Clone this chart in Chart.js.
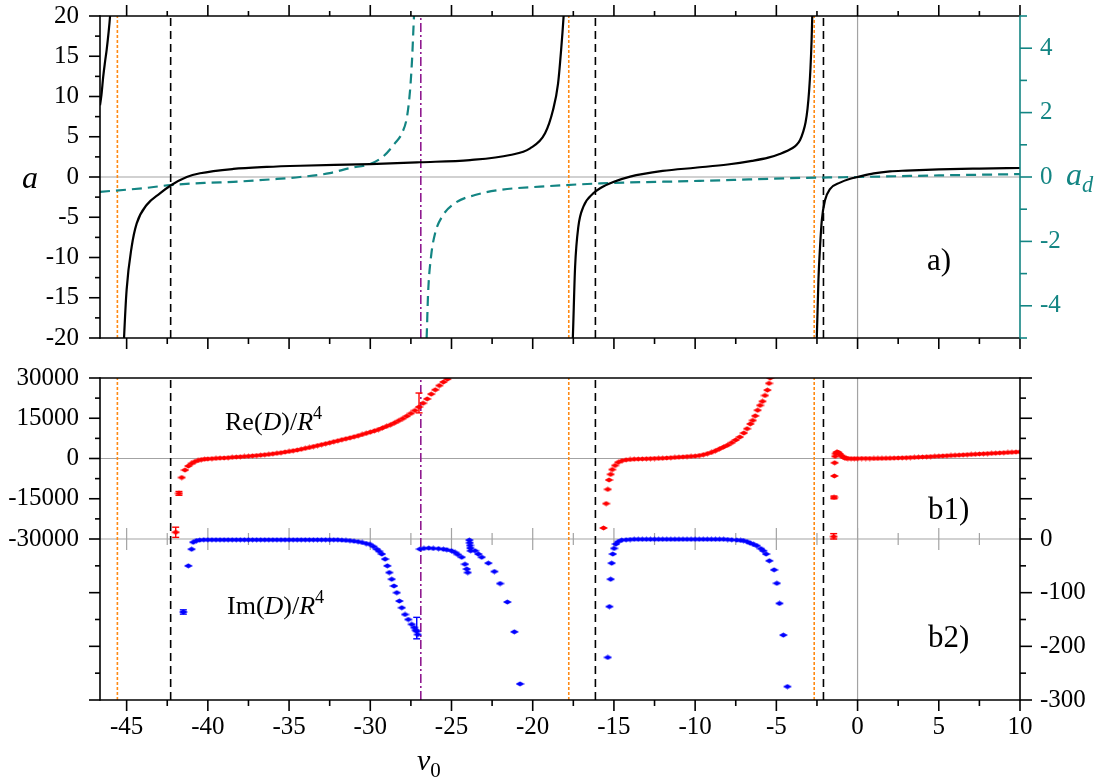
<!DOCTYPE html>
<html>
<head>
<meta charset="utf-8">
<script src="https://cdn.jsdelivr.net/npm/chart.js@4.4.0/dist/chart.umd.min.js"></script>
<style>
  body { margin: 0; background: #fff; }
  #wrap { position: relative; width: 1102px; height: 784px; }
  #topBox { position: absolute; left: 0; top: 0; width: 1102px; height: 360px; }
  #botBox { position: absolute; left: 0; top: 360px; width: 1102px; height: 424px; }
</style>
</head>
<body>
<div id="wrap">
  <div id="topBox"><canvas id="topChart"></canvas></div>
  <div id="botBox"><canvas id="botChart"></canvas></div>
</div>
<script>
// axis ranges / tick labels
const xMin = -46.64, xMax = 10;
const xTickVals = [-45, -40, -35, -30, -25, -20, -15, -10, -5, 0, 5, 10];
const aTickVals = [-20, -15, -10, -5, 0, 5, 10, 15, 20];
const adTickVals = [-4, -2, 0, 2, 4];
const reTickVals = [-30000, -15000, 0, 15000, 30000];
const imTickVals = [-300, -200, -100, 0];

// vertical marker lines (v0 positions)
const orangeLines = [-45.57, -17.78, -2.67];
const blackLines = [-42.29, -16.14, -2.10];
const purpleLines = [-26.89];

// panel a): scattering length a (black), null = break between branches
const aV = [-46.64, -46.55, -46.44, -46.33, -46.23, -46.12, -46.02, -45.96, null,
  -45.2, -45.16, -45.0, -44.69, -44.38, -43.77, -42.95, -42.29, -41.3, -40.48, -38.43, -36.38, -34.32, -30.01,
  -26.94, -23.86, -21.39, -20.16, -19.24, -18.75, -18.44, -18.25, -18.1, -18.04, null,
  -17.57, -17.53, -17.39, -17.19, -16.88, -16.27, -15.85, -15.0, -14.0, -12.0, -10.0, -8.0, -6.5, -5.5, -4.8,
  -4.0, -3.75, -3.54, -3.35, -3.2, -3.08, -2.98, -2.9, -2.83, -2.79, -2.77, null,
  -2.55, -2.51, -2.41, -2.31, -2.2, -2.0, -1.7, -1.08, -0.5, 0, 1, 2, 3, 5, 7.5, 10];
const aVal = [8.9, 10.2, 12.5, 14.3, 15.8, 17.8, 20, 22, null,
  -22, -20, -14.0, -8.66, -5.76, -3.48, -2.03, -1.05, 0, 0.46, 1.0, 1.25, 1.4, 1.6,
  1.83, 2.1, 2.73, 3.56, 5.43, 8.32, 11.6, 15.8, 19.9, 22, null,
  -22, -20, -11.14, -6.17, -3.69, -2.03, -1.4, -0.6, 0.05, 0.75, 1.15, 1.55, 2.0, 2.4, 2.85,
  3.6, 4.0, 4.6, 5.6, 6.8, 8.5, 10.8, 13.5, 17, 20, 22, null,
  -22, -20, -12.8, -8.66, -5.35, -2.86, -1.5, -0.7, -0.25, 0, 0.45, 0.7, 0.8, 0.95, 1.05, 1.12];

// panel a): a_d (teal, right axis)
const adV = [-46.64, -44, -42.29, -40, -38.43, -36, -34.32, -32.5, -31.25, -30.02, -29.22, -28.48, -28.04,
  -27.74, -27.55, -27.43, -27.31, -27.25, null,
  -26.57, -26.53, -26.44, -26.26, -26.01, -25.58, -24.78, -23.55, -22.01, -19.55, -15.85, -9.7, -3.54, 0, 5, 10];
const adVal = [-0.46, -0.35, -0.25, -0.18, -0.15, -0.07, 0, 0.12, 0.28, 0.4, 0.63, 1.05, 1.37,
  1.87, 2.7, 3.63, 4.98, 5.5, null,
  -5.5, -5, -3.6, -2.47, -1.75, -1.23, -0.81, -0.56, -0.4, -0.3, -0.2, -0.12, -0.03, 0, 0.05, 0.09];

// panel b1): Re(D)/R^4
const reV1 = [-41.98, -41.78, -41.61, -41.41, -41.2, -41.0, -40.8, -40.6, -40.4, -40.2, -40.0,
  -39.75, -39.5, -39.25, -39.0, -38.75, -38.5, -38.25, -38.0, -37.75, -37.5, -37.25, -37.0,
  -36.75, -36.5, -36.25, -36.0, -35.75, -35.5, -35.25, -35.0, -34.75, -34.5, -34.25, -34.0,
  -33.75, -33.5, -33.25, -33.0, -32.75, -32.5, -32.25, -32.0, -31.75, -31.5, -31.25, -31.0,
  -30.75, -30.5, -30.25, -30.0, -29.75, -29.5, -29.25, -29.0, -28.75, -28.5, -28.25, -28.0,
  -27.75, -27.5, -27.25, -27.0, -26.75, -26.5, -26.25, -26.0, -25.75, -25.5, -25.25, -25.0];
const reVal1 = [-27500, -13000, -7100, -4300, -2800, -1850, -1150, -700, -400, -250, -150,
  -50, 50, 150, 200, 300, 450, 550, 650, 750, 850, 1000, 1100,
  1250, 1400, 1550, 1750, 1950, 2150, 2400, 2650, 2900, 3150, 3450, 3800,
  4100, 4450, 4800, 5150, 5500, 5850, 6250, 6600, 7000, 7350, 7700, 8100,
  8500, 8950, 9400, 9850, 10300, 10800, 11400, 12000, 12600, 13300, 14100, 14900,
  15800, 16800, 17900, 19200, 20600, 22200, 24000, 25600, 27200, 28500, 29600, 31000];
const reV2 = [-15.64, -15.48, -15.38, -15.3, -15.2, -15.1, -14.93, -14.73,
  -14.5, -14.25, -14.0, -13.75, -13.5, -13.25, -13.0, -12.75, -12.5, -12.25, -12.0, -11.75, -11.5,
  -11.25, -11.0, -10.75, -10.5, -10.25, -10.0, -9.75, -9.5, -9.25, -9.0, -8.75, -8.5, -8.25, -8.0,
  -7.75, -7.5, -7.25, -7.0,
  -6.8, -6.6, -6.45, -6.3, -6.15, -6.0, -5.85, -5.7, -5.55, -5.45, -5.38];
const reVal2 = [-25900, -16800, -11500, -8000, -5900, -4100, -2600, -1400,
  -800, -500, -350, -250, -200, -150, -100, -50, 0, 50, 100, 200, 300,
  400, 500, 600, 700, 800, 900, 1100, 1400, 1800, 2300, 2900, 3600, 4300, 5000,
  5900, 6900, 8000, 9500,
  11100, 12900, 14200, 15900, 18000, 19800, 21300, 23500, 25500, 28000, 30000];
const reV3 = [-1.47, -1.45, -1.43, -1.41, -1.38, -1.34, -1.29, -1.24, -1.18, -1.1, -1.0, -0.9, -0.8, -0.7,
  -0.6, -0.4, -0.2, 0, 0.25, 0.5, 0.75, 1, 1.25, 1.5, 1.75, 2, 2.25, 2.5, 2.75, 3, 3.25, 3.5, 3.75,
  4, 4.25, 4.5, 4.75, 5, 5.25, 5.5, 5.75, 6, 6.25, 6.5, 6.75, 7, 7.25, 7.5, 7.75, 8, 8.25, 8.5, 8.75,
  9, 9.25, 9.5, 9.75, 10];
const reVal3 = [-29100, -14500, -6500, -1600, 800, 1800, 2300, 2400, 2200, 1700, 1100, 600, 250, 80,
  0, -50, -50, -30, 0, 0, 0, 20, 30, 50, 70, 100, 150, 200, 250, 300, 360, 430, 500,
  570, 640, 720, 800, 880, 960, 1040, 1120, 1200, 1280, 1360, 1440, 1520, 1600, 1680, 1760, 1840, 1920, 2000, 2080,
  2160, 2240, 2320, 2400, 2480];

// panel b2): Im(D)/R^4
const imV1 = [-41.51, -41.2, -41.0, -40.9, -40.7, -40.5, -40.25,
  -40.0, -39.75, -39.5, -39.25, -39.0, -38.75, -38.5, -38.25, -38.0, -37.75, -37.5, -37.25, -37.0,
  -36.75, -36.5, -36.25, -36.0, -35.75, -35.5, -35.25, -35.0, -34.75, -34.5, -34.25, -34.0,
  -33.75, -33.5, -33.25, -33.0, -32.75, -32.5, -32.25, -32.0, -31.75, -31.5, -31.25, -31.0,
  -30.75, -30.5, -30.25, -30.02, -29.8, -29.6, -29.45, -29.29, -29.09, -28.95, -28.83, -28.68,
  -28.54, -28.37, -28.21, -28.06, -27.86, -27.66, -27.45, -27.3, -27.2, -27.14, -27.08];
const imVal1 = [-136, -50, -19, -6, -3, -2, -1.5,
  -1.5, -1.5, -1.5, -1.5, -1.5, -1.5, -1.5, -1.5, -1.5, -1.5, -1.5, -1.5, -1.5,
  -1.5, -1.5, -1.5, -1.5, -1.5, -1.5, -1.5, -1.5, -1.5, -1.5, -1.5, -1.5,
  -1.5, -1.5, -1.5, -1.5, -1.5, -1.5, -1.5, -1.5, -2, -2.5, -3, -4,
  -5, -6.5, -8.5, -10, -14, -19, -23, -28, -37.5, -50, -62.5, -75,
  -87.5, -100, -115.6, -128, -140.6, -150, -159, -165, -170, -172, -178];
const imV2 = [-26.94, -26.7, -26.4, -26.12, -25.8, -25.5, -25.29, -25.0, -24.78, -24.6, -24.37, -24.17,
  -24.06, -24.0, -23.9, -23.88, -23.86, -23.84, -23.82, -23.55, -23.35, -23.14, -22.73, -22.36, -22.01,
  -21.56, -21.13, -20.78];
const imVal2 = [-18.8, -17.5, -17, -17.5, -18, -19, -20, -22, -25, -29, -34, -47,
  -56, -62.5, -2, -7, -12, -17, -22, -22, -28, -34, -45, -60.6, -83,
  -117.5, -173, -270];
const imV3 = [-15.38, -15.28, -15.2, -15.14, -15.07, -14.99, -14.88, -14.73, -14.52, -14.25,
  -14.0, -13.75, -13.5, -13.25, -13.0, -12.75, -12.5, -12.25, -12.0, -11.75, -11.5, -11.25, -11.0,
  -10.75, -10.5, -10.25, -10.0, -9.75, -9.5, -9.25, -9.0, -8.75, -8.5, -8.25, -8.0,
  -7.75, -7.44, -7.2, -7.03, -6.8, -6.62, -6.4, -6.2, -5.95, -5.8, -5.63, -5.43, -5.14, -4.97,
  -4.81, -4.57, -4.32];
const imVal3 = [-220.6, -126, -75, -45, -28, -17.5, -9.4, -5, -2, -1.5,
  -1, -0.5, -0.5, -0.5, -0.5, -0.5, -0.5, -0.5, -0.5, -0.5, -0.5, -0.5, -0.5,
  -0.5, -0.5, -0.5, -0.5, -0.5, -0.5, -0.5, -0.5, -0.5, -0.5, -0.5, -1,
  -1.5, -2, -2.5, -3, -5, -7.5, -10, -12.5, -18, -22, -28, -40.6, -57.5, -82.5,
  -120, -179, -275];

// visible error bars
const reErrV = [-41.98, -41.78, -27.0, -1.47, -1.45];
const reErrLo = [-29400, -13700, 17000, -30000, -15000];
const reErrHi = [-25600, -12300, 24400, -28000, -14000];
const imErrV = [-41.51, -27.14];
const imErrLo = [-140, -186];
const imErrHi = [-132, -146];

const FONT = '"Liberation Serif", "Times New Roman", serif';
const TEAL = '#138583';
const ORANGE = '#ff8a14';
const PURPLE = '#8f1a8f';
const GRAY = '#a3a3a3';
const RED = '#ff0000';
const BLUE = '#0000ff';

Chart.defaults.font.family = FONT;
Chart.defaults.color = '#000';

const pts = (xs, ys) => xs.map((x, i) => ({ x: x, y: ys[i] }));

function vline(vals, lo, hi, axis, color, dash) {
  const data = [];
  vals.forEach(v => { data.push({ x: v, y: lo }, { x: v, y: hi }, { x: null, y: null }); });
  return { data: data, yAxisID: axis, borderColor: color, borderWidth: 1.6, borderDash: dash,
    pointRadius: 0, showLine: true, clip: 0, spanGaps: false };
}

function marker(color) {
  const c = document.createElement('canvas');
  c.width = 9; c.height = 6;
  const g = c.getContext('2d');
  g.fillStyle = color;
  g.beginPath();
  g.moveTo(0, 3); g.lineTo(4.5, 0.6); g.lineTo(9, 3); g.lineTo(4.5, 5.4);
  g.closePath(); g.fill();
  return c;
}

function line(ctx, x1, y1, x2, y2) {
  ctx.beginPath(); ctx.moveTo(x1, y1); ctx.lineTo(x2, y2); ctx.stroke();
}

// text with italic / sub / sup pieces
function richText(ctx, x, y, parts, size, color) {
  ctx.save();
  ctx.fillStyle = color;
  ctx.textBaseline = 'alphabetic';
  ctx.textAlign = 'left';
  let cx = x;
  for (const [t, s] of parts) {
    let fs = size, dy = 0;
    if (s.includes('sub')) { fs = size * 0.7; dy = size * 0.22; }
    if (s.includes('sup')) { fs = size * 0.7; dy = -size * 0.42; }
    ctx.font = (s.includes('i') ? 'italic ' : '') + fs + 'px ' + FONT;
    ctx.fillText(t, cx, y + dy);
    cx += ctx.measureText(t).width;
  }
  ctx.restore();
}

const tickFont = { family: FONT, size: 25 };
const fixTicks = vals => scale => { scale.ticks = vals.map(v => ({ value: v })); };
// fixed axis box sizes, no extra label overflow padding
const fixWidth = w => s => { s.width = w; s.paddingTop = 0; s.paddingBottom = 0; };
const fixHeight = h => s => { s.height = h; s.paddingLeft = 0; s.paddingRight = 0; };

// ---------- panel a) ----------
const topDecor = {
  id: 'topDecor',
  beforeDatasetsDraw(chart) {
    const { ctx, chartArea: ca, scales: { x, y } } = chart;
    ctx.save();
    ctx.strokeStyle = GRAY; ctx.lineWidth = 1.2;
    line(ctx, ca.left, y.getPixelForValue(0), ca.right, y.getPixelForValue(0));
    line(ctx, x.getPixelForValue(0), ca.top, x.getPixelForValue(0), ca.bottom);
    ctx.restore();
  },
  afterDraw(chart) {
    const { ctx, chartArea: ca, scales: { x, y, y2 } } = chart;
    ctx.save();
    ctx.lineWidth = 1.6; ctx.strokeStyle = '#000';
    line(ctx, ca.left, ca.top, ca.right, ca.top);
    line(ctx, ca.left, ca.bottom, ca.right, ca.bottom);
    line(ctx, ca.left, ca.top - 0.8, ca.left, ca.bottom + 0.8);
    for (let v = -45; v <= 10; v += 2.5) {
      const px = x.getPixelForValue(v), major = v % 5 === 0;
      line(ctx, px, ca.bottom, px, ca.bottom + (major ? 11 : 6));
      line(ctx, px, ca.top, px, ca.top - (major ? 11 : 5));
    }
    for (let v = -20; v <= 20; v += 2.5) {
      const py = y.getPixelForValue(v), major = v % 5 === 0;
      line(ctx, ca.left, py, ca.left - (major ? 11 : 5), py);
    }
    ctx.strokeStyle = TEAL;
    line(ctx, ca.right, ca.top - 0.8, ca.right, ca.bottom + 0.8);
    for (let v = -5; v <= 5; v++) {
      const py = y2.getPixelForValue(v);
      line(ctx, ca.right, py, ca.right + (v % 2 === 0 ? 12 : 7), py);
    }
    richText(ctx, 22, 188, [['a', 'i']], 32, '#000');
    richText(ctx, 1066, 185, [['a', 'i'], ['d', 'isub']], 32, TEAL);
    richText(ctx, 927, 270, [['a)', '']], 31, '#000');
    ctx.restore();
  }
};

new Chart(document.getElementById('topChart'), {
  type: 'line',
  data: {
    datasets: [
      { data: pts(aV, aVal), yAxisID: 'y', borderColor: '#000', borderWidth: 2.2, pointRadius: 0,
        cubicInterpolationMode: 'monotone', clip: 0 },
      { data: pts(adV, adVal), yAxisID: 'y2', borderColor: TEAL, borderWidth: 2.2, borderDash: [10, 6],
        pointRadius: 0, cubicInterpolationMode: 'monotone', clip: 0 },
      vline(purpleLines, -20, 20, 'y', PURPLE, [9, 3, 2, 3]),
      vline(blackLines, -20, 20, 'y', '#000', [8, 5]),
      vline(orangeLines, -20, 20, 'y', ORANGE, [3, 2])
    ]
  },
  options: {
    responsive: true,
    maintainAspectRatio: false,
    animation: false,
    events: [],
    layout: { padding: { top: 16, left: 0, right: 0, bottom: 0 } },
    plugins: { legend: { display: false }, tooltip: { enabled: false } },
    scales: {
      x: {
        type: 'linear', position: 'bottom', min: xMin, max: xMax,
        grid: { display: false, drawTicks: false }, border: { display: false },
        ticks: { display: false },
        afterFit: fixHeight(22)
      },
      y: {
        type: 'linear', position: 'left', min: -20, max: 20,
        grid: { display: false, drawTicks: false }, border: { display: false },
        ticks: { font: tickFont, color: '#000', padding: 21, callback: v => String(v) },
        afterBuildTicks: fixTicks(aTickVals),
        afterFit: fixWidth(100)
      },
      y2: {
        type: 'linear', position: 'right', min: -5, max: 5,
        grid: { display: false, drawTicks: false }, border: { display: false },
        ticks: { font: tickFont, color: TEAL, padding: 20, callback: v => String(v) },
        afterBuildTicks: fixTicks(adTickVals),
        afterFit: fixWidth(82)
      }
    }
  },
  plugins: [topDecor]
});

// ---------- panels b1) / b2) ----------
const botDecor = {
  id: 'botDecor',
  beforeDatasetsDraw(chart) {
    const { ctx, chartArea: ca, scales: { x, yRe } } = chart;
    ctx.save();
    ctx.strokeStyle = GRAY; ctx.lineWidth = 1.2;
    line(ctx, ca.left, yRe.getPixelForValue(0), ca.right, yRe.getPixelForValue(0));
    line(ctx, x.getPixelForValue(0), ca.top, x.getPixelForValue(0), ca.bottom);
    const ym = yRe.getPixelForValue(-30000);
    line(ctx, ca.left, ym, ca.right, ym);
    for (let v = -45; v <= 10; v += 2.5) {
      const px = x.getPixelForValue(v), h = v % 5 === 0 ? 11 : 6;
      line(ctx, px, ym - h, px, ym + h);
    }
    ctx.restore();
  },
  afterDatasetsDraw(chart) {
    const { ctx, scales: { x, yRe, yIm } } = chart;
    ctx.save();
    ctx.lineWidth = 1.4;
    const bars = (vs, lo, hi, sc, col) => {
      ctx.strokeStyle = col;
      vs.forEach((v, i) => {
        const px = x.getPixelForValue(v), p1 = sc.getPixelForValue(lo[i]), p2 = sc.getPixelForValue(hi[i]);
        line(ctx, px, p1, px, p2);
        line(ctx, px - 3.5, p1, px + 3.5, p1);
        line(ctx, px - 3.5, p2, px + 3.5, p2);
      });
    };
    bars(reErrV, reErrLo, reErrHi, yRe, RED);
    bars(imErrV, imErrLo, imErrHi, yIm, BLUE);
    ctx.restore();
  },
  afterDraw(chart) {
    const { ctx, chartArea: ca, scales: { x, yRe, yIm } } = chart;
    ctx.save();
    ctx.lineWidth = 1.6; ctx.strokeStyle = '#000';
    line(ctx, ca.left, ca.top, ca.right, ca.top);
    line(ctx, ca.left, ca.bottom, ca.right, ca.bottom);
    line(ctx, ca.left, ca.top - 0.8, ca.left, ca.bottom + 0.8);
    line(ctx, ca.right, ca.top - 0.8, ca.right, ca.bottom + 0.8);
    for (let v = -45; v <= 10; v += 2.5) {
      const px = x.getPixelForValue(v), major = v % 5 === 0;
      line(ctx, px, ca.bottom, px, ca.bottom + (major ? 11 : 6));
    }
    for (let v = -30000; v <= 30000; v += 7500) {
      const py = yRe.getPixelForValue(v), len = v % 15000 === 0 ? 11 : 5;
      line(ctx, ca.left, py, ca.left - len, py);
      line(ctx, ca.right, py, ca.right + len + 1, py);
    }
    for (let v = -300; v < 0; v += 50) {
      const py = yIm.getPixelForValue(v), len = v % 100 === 0 ? 11 : 5;
      line(ctx, ca.left, py, ca.left - len, py);
      line(ctx, ca.right, py, ca.right + len + 1, py);
    }
    richText(ctx, 225, 70, [['Re(', ''], ['D', 'i'], [')/', ''], ['R', 'i'], ['4', 'sup']], 26, '#000');
    richText(ctx, 227, 254, [['Im(', ''], ['D', 'i'], [')/', ''], ['R', 'i'], ['4', 'sup']], 26, '#000');
    richText(ctx, 928, 159, [['b1)', '']], 31, '#000');
    richText(ctx, 928, 287, [['b2)', '']], 31, '#000');
    richText(ctx, 417, 410, [['v', 'i'], ['0', 'sub']], 30, '#000');
    ctx.restore();
  }
};

new Chart(document.getElementById('botChart'), {
  type: 'line',
  data: {
    datasets: [
      { data: pts(reV1.concat(reV2, reV3), reVal1.concat(reVal2, reVal3)), yAxisID: 'yRe', showLine: false,
        pointStyle: marker(RED), pointRadius: 3, clip: 0 },
      { data: pts(imV1.concat(imV2, imV3), imVal1.concat(imVal2, imVal3)), yAxisID: 'yIm', showLine: false,
        pointStyle: marker(BLUE), pointRadius: 3, clip: 0 },
      vline(purpleLines, -90000, 30000, 'yRe', PURPLE, [9, 3, 2, 3]),
      vline(blackLines, -90000, 30000, 'yRe', '#000', [8, 5]),
      vline(orangeLines, -90000, 30000, 'yRe', ORANGE, [3, 2])
    ]
  },
  options: {
    responsive: true,
    maintainAspectRatio: false,
    animation: false,
    events: [],
    layout: { padding: { top: 18, left: 0, right: 0, bottom: 0 } },
    plugins: { legend: { display: false }, tooltip: { enabled: false } },
    scales: {
      x: {
        type: 'linear', position: 'bottom', min: xMin, max: xMax,
        grid: { display: false, drawTicks: false }, border: { display: false },
        ticks: { font: tickFont, color: '#000', padding: 12, maxRotation: 0, autoSkip: false,
          callback: v => String(v) },
        afterBuildTicks: fixTicks(xTickVals),
        afterFit: fixHeight(84)
      },
      yRe: {
        type: 'linear', position: 'left', min: -90000, max: 30000,
        grid: { display: false, drawTicks: false }, border: { display: false },
        ticks: { font: tickFont, color: '#000', padding: 21, callback: v => String(v) },
        afterBuildTicks: fixTicks(reTickVals),
        afterFit: fixWidth(100)
      },
      yIm: {
        type: 'linear', position: 'right', min: -300, max: 300,
        grid: { display: false, drawTicks: false }, border: { display: false },
        ticks: { font: tickFont, color: '#000', padding: 20, callback: v => String(v) },
        afterBuildTicks: fixTicks(imTickVals),
        afterFit: fixWidth(82)
      }
    }
  },
  plugins: [botDecor]
});
</script>
</body>
</html>
